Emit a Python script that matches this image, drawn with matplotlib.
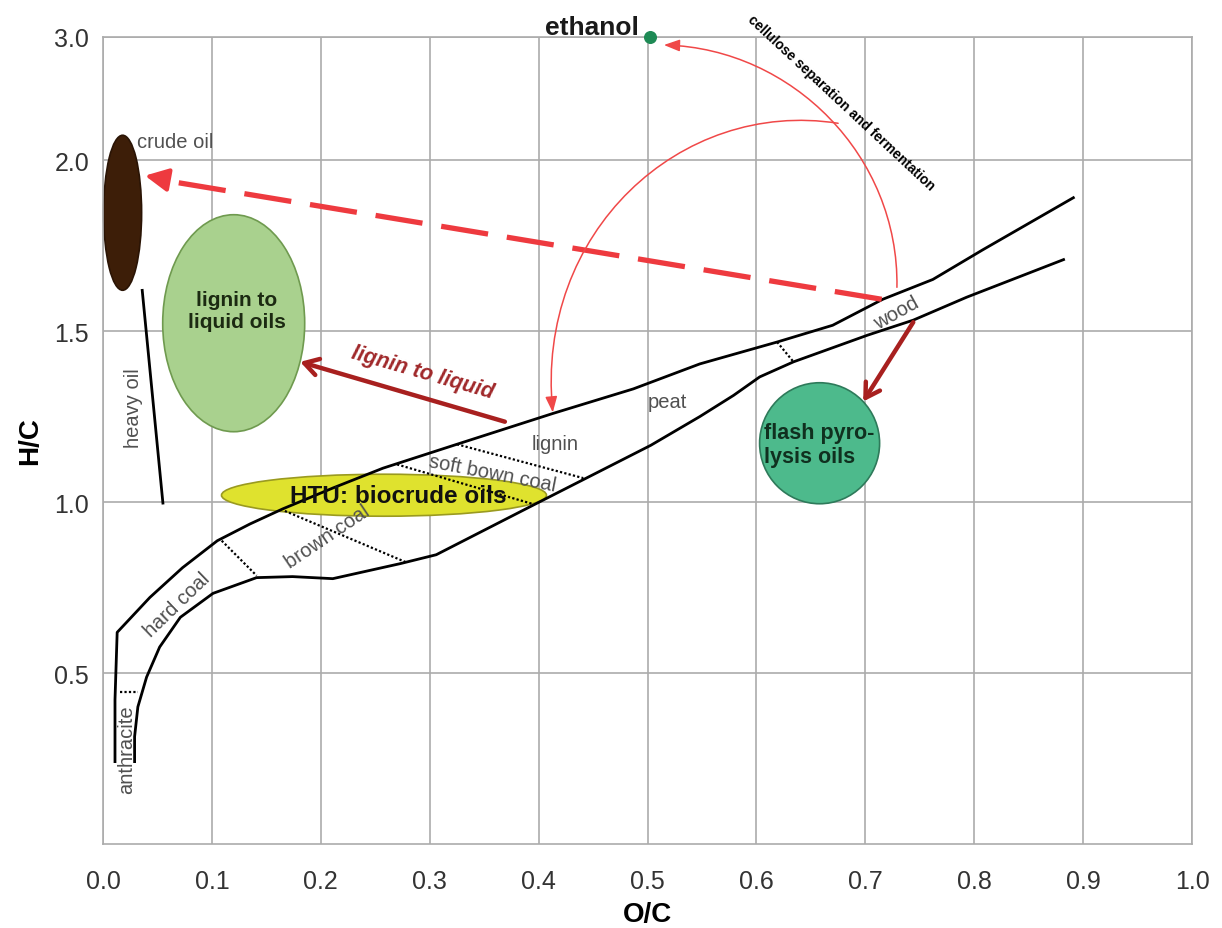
import numpy as np
import matplotlib
matplotlib.use('Agg')
import matplotlib.pyplot as plt
from matplotlib.patches import Ellipse, FancyArrowPatch
from matplotlib.path import Path
import matplotlib.transforms as mtransforms

plt.rcParams['font.family'] = ['Liberation Sans', 'DejaVu Sans']

# coal band boundaries (O/C, H/C)
upper_oc = [0.011, 0.011, 0.013, 0.043, 0.073, 0.105, 0.135, 0.165, 0.211, 0.257,
            0.325, 0.413, 0.487, 0.548, 0.619, 0.670, 0.716, 0.762, 0.808, 0.891]
upper_hc = [0.241, 0.422, 0.619, 0.721, 0.808, 0.887, 0.936, 0.980, 1.041, 1.099,
            1.169, 1.259, 1.331, 1.404, 1.468, 1.517, 1.593, 1.651, 1.738, 1.890]
lower_oc = [0.029, 0.029, 0.032, 0.040, 0.052, 0.071, 0.101, 0.141, 0.174, 0.211,
            0.273, 0.306, 0.395, 0.503, 0.548, 0.579, 0.603, 0.634, 0.702, 0.744, 0.793, 0.882]
lower_hc = [0.241, 0.314, 0.401, 0.488, 0.576, 0.663, 0.733, 0.779, 0.782, 0.776,
            0.820, 0.846, 0.991, 1.166, 1.250, 1.312, 1.366, 1.410, 1.488, 1.532, 1.599, 1.709]
heavy_oc = [0.036, 0.055]
heavy_hc = [1.619, 0.997]

# dotted class separators: (oc0, hc0, oc1, hc1)
separators = [
    (0.016, 0.445, 0.032, 0.445),
    (0.109, 0.887, 0.141, 0.785),
    (0.167, 0.974, 0.279, 0.823),
    (0.270, 1.110, 0.395, 0.994),
    (0.325, 1.169, 0.441, 1.070),
    (0.619, 1.468, 0.634, 1.410),
]

# region labels
region_names = ['crude oil', 'heavy oil', 'anthracite', 'hard coal', 'brown coal',
                'soft bown coal', 'lignin', 'peat', 'wood']
region_oc = [0.031, 0.028, 0.022, 0.068, 0.206, 0.358, 0.415, 0.518, 0.729]
region_hc = [2.153, 1.279, 0.279, 0.700, 0.901, 1.084, 1.170, 1.294, 1.555]
region_rot = [0, 90, 90, 44, 34, -11, 0, 0, 29]

# product blobs
blob_names = ['', 'lignin to\nliquid oils', 'HTU: biocrude oils', 'flash pyro-\nlysis oils']
blob_oc = [0.018, 0.120, 0.258, 0.658]
blob_hc = [1.846, 1.523, 1.020, 1.172]
ethanol_oc, ethanol_hc = 0.502, 3.0

# y axis: linear to 2.0, compressed above
k = 0.36
def fwd(y):
    y = np.asarray(y, dtype=float)
    return np.where(y <= 2, y, 2 + (y - 2) * k)
def inv(u):
    u = np.asarray(u, dtype=float)
    return np.where(u <= 2, u, 2 + (u - 2) / k)

fig = plt.figure(figsize=(12.22, 9.29), dpi=100)
ax = fig.add_axes([0.0843, 0.0904, 0.8912, 0.8687])
ax.set_yscale('function', functions=(fwd, inv))
ax.set_xlim(0, 1)
ax.set_ylim(0, 3.0)

gray = '#ababab'
ax.set_xticks(np.arange(0, 1.01, 0.1))
ax.set_xticklabels(['%.1f' % v for v in np.arange(0, 1.01, 0.1)])
ax.set_yticks([0.5, 1.0, 1.5, 2.0, 3.0])
ax.set_yticklabels(['0.5', '1.0', '1.5', '2.0', '3.0'])
ax.grid(True, color=gray, lw=1.2, zorder=0)
ax.set_axisbelow(True)
for s in ax.spines.values():
    s.set_color(gray)
    s.set_linewidth(1.2)
ax.tick_params(axis='x', length=0, pad=18, labelsize=18, labelcolor='#333333')
ax.tick_params(axis='y', length=0, pad=10, labelsize=18, labelcolor='#333333')
ax.set_xlabel('O/C', fontsize=20, fontweight='bold', labelpad=6)
ax.set_ylabel('H/C', fontsize=20, fontweight='bold', labelpad=8)

def blob(cx, cy, w, h, fc, ec):
    tr = fig.dpi_scale_trans + mtransforms.ScaledTranslation(cx, cy, ax.transData)
    e = Ellipse((0, 0), w / 100, h / 100, transform=tr, fc=fc, ec=ec, lw=1.2,
                zorder=2, clip_on=False)
    ax.add_patch(e)

blob(blob_oc[0], blob_hc[0], 38, 155, '#3d1e08', '#2a1405')
blob(blob_oc[1], blob_hc[1], 142, 217, '#a9d18e', '#6f9a4f')
blob(blob_oc[2], blob_hc[2], 325, 42, '#dfe22e', '#9a9a20')
blob(blob_oc[3], blob_hc[3], 120, 121, '#4dba8c', '#2e7a5a')

ax.text(0.123, 1.56, blob_names[1], ha='center', va='center', fontsize=15,
        fontweight='bold', color='#1c2a12', zorder=6)
ax.text(0.271, 1.020, blob_names[2], ha='center', va='center', fontsize=17.5,
        fontweight='bold', color='#111111', zorder=6)
ax.text(0.658, 1.169, blob_names[3], ha='center', va='center', fontsize=15.5,
        fontweight='bold', color='#10301f', zorder=6, multialignment='left')

# coal band
ax.plot(upper_oc, upper_hc, color='black', lw=2, zorder=3)
ax.plot(lower_oc, lower_hc, color='black', lw=2, zorder=3)
ax.plot(heavy_oc, heavy_hc, color='black', lw=2, zorder=3)
for x0, y0, x1, y1 in separators:
    ax.plot([x0, x1], [y0, y1], color='black', lw=1.6, ls=(0, (1, 1)), zorder=3)

for name, x, y, r in zip(region_names, region_oc, region_hc, region_rot):
    ha = 'left' if name == 'crude oil' else 'center'
    ax.text(x, y, name, ha=ha, va='center', rotation=r, fontsize=14.5,
            color='#505050', zorder=5, rotation_mode='anchor')

# ethanol
ax.scatter([ethanol_oc], [ethanol_hc], s=70, color='#1e8a55', zorder=6, clip_on=False)
ax.annotate('ethanol', xy=(ethanol_oc, ethanol_hc), xytext=(-8, 2),
            textcoords='offset points', ha='right', va='baseline', fontsize=19,
            fontweight='bold', color='#1a1a1a', annotation_clip=False)

# wood -> crude oil (dashed)
red = '#ee3a3f'
ax.plot([0.715, 0.048], [1.593, 1.945], color=red, lw=3.8, ls=(0, (9, 3.6)),
        solid_capstyle='butt', zorder=4)
ax.annotate('', xy=(0.036, 1.956), xytext=(0.06, 1.942),
            arrowprops=dict(arrowstyle='-|>,head_length=0.7,head_width=0.35',
                            color=red, lw=3, mutation_scale=20), zorder=4)

# cellulose separation and fermentation arcs
arc1 = Path([(0.729, 1.628), (0.731, 2.032), (0.633, 2.904), (0.515, 2.935)],
            [Path.MOVETO, Path.CURVE4, Path.CURVE4, Path.CURVE4])
arc2 = Path([(0.675, 2.299), (0.530, 2.500), (0.397, 1.788), (0.413, 1.262)],
            [Path.MOVETO, Path.CURVE4, Path.CURVE4, Path.CURVE4])
for p in (arc1, arc2):
    ax.add_patch(FancyArrowPatch(path=p, arrowstyle='-|>,head_length=0.8,head_width=0.3',
                                 mutation_scale=12, color='#f04848', lw=1.1, zorder=4))
ax.text(0.678, 2.47, 'cellulose separation and fermentation', rotation=-43,
        ha='center', va='center', fontsize=10, fontweight='bold', color='black',
        rotation_mode='anchor')

# dark red arrows
dred = '#a8201f'
ax.annotate('', xy=(0.181, 1.410), xytext=(0.369, 1.235),
            arrowprops=dict(arrowstyle='->,head_length=0.5,head_width=0.3',
                            color=dred, lw=3.2, mutation_scale=20, shrinkA=0, shrinkB=0))
ax.text(0.293, 1.381, 'lignin to liquid', rotation=-16, ha='center', va='center',
        fontsize=15.5, fontweight='bold', fontstyle='italic', color='#a0282a',
        rotation_mode='anchor')
ax.annotate('', xy=(0.698, 1.294), xytext=(0.744, 1.526),
            arrowprops=dict(arrowstyle='->,head_length=0.5,head_width=0.3',
                            color=dred, lw=3.2, mutation_scale=20, shrinkA=0, shrinkB=0))

fig.savefig('out.png', dpi=100)
